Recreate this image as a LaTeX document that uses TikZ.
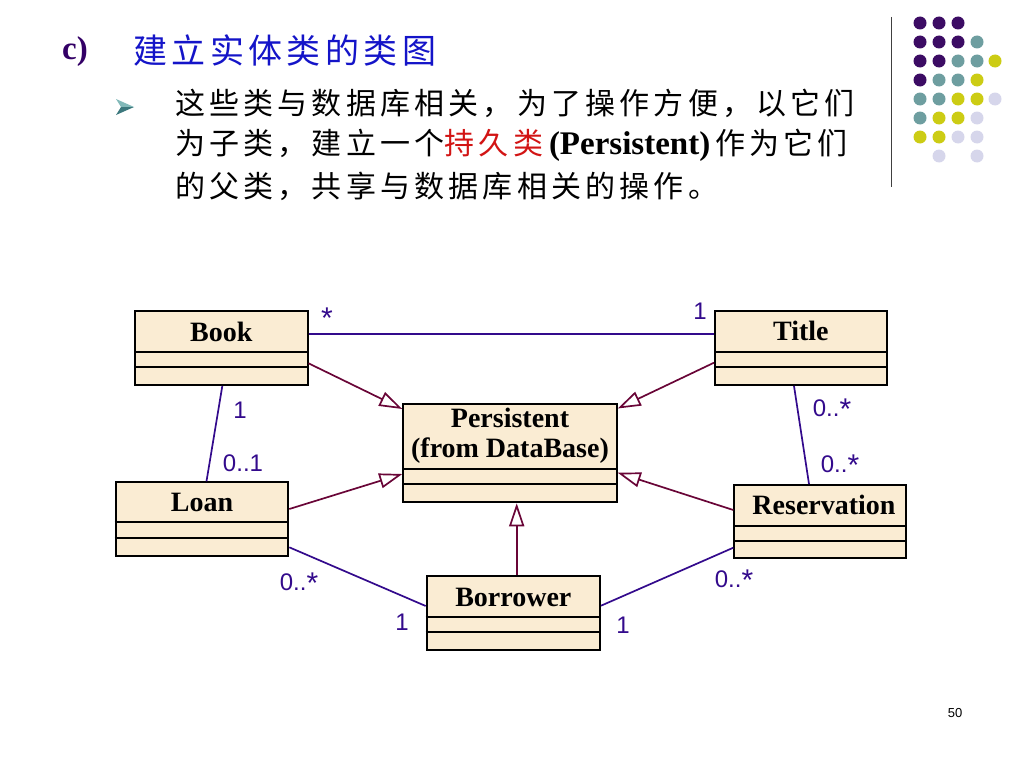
\documentclass[tikz,border=0pt]{standalone}
\usepackage{fontspec}
\setmainfont{Liberation Serif}
\setsansfont{Liberation Sans}
\newfontfamily\cjk[LetterSpace=14]{Noto Sans CJK SC}
\newfontfamily\cjkt[LetterSpace=13]{Noto Sans CJK SC}
\usetikzlibrary{arrows.meta}
\definecolor{boxfill}{RGB}{250,236,211}
\definecolor{assoc}{RGB}{51,10,140}
\definecolor{gen}{RGB}{105,5,55}
\definecolor{titleblue}{RGB}{20,20,200}
\definecolor{cpurple}{RGB}{51,0,102}
\definecolor{bulletlight}{RGB}{130,185,185}
\definecolor{bulletdark}{RGB}{60,120,125}
\definecolor{dP}{RGB}{60,12,100}
\definecolor{dT}{RGB}{110,158,160}
\definecolor{dY}{RGB}{204,204,20}
\definecolor{dL}{RGB}{214,214,235}
\definecolor{pred}{RGB}{210,20,20}
\newcommand\mstar{\raisebox{-3pt}{\fontsize{30}{30}\selectfont *}}
\begin{document}
\begin{tikzpicture}[x=1pt,y=-1pt,
  classbox/.style={draw=black, line width=2pt, fill=boxfill, inner sep=0pt},
  compline/.style={draw=black, line width=2pt},
  cname/.style={font=\bfseries\fontsize{28}{30}\selectfont, inner sep=0pt, align=center},
  assocline/.style={draw=assoc, line width=1.7pt},
  genline/.style={draw=gen, line width=1.7pt, -{Triangle[open, length=23pt, width=15pt, line width=1.7pt]}},
  mult/.style={font=\sffamily\fontsize{24}{24}\selectfont, text=assoc, inner sep=0pt},
  dot/.style={circle, inner sep=0pt, minimum size=13pt}
]
\useasboundingbox (0,0) rectangle (1024,768);
% header
\node[anchor=west, inner sep=0pt, text=cpurple, font=\bfseries\fontsize{33}{34}\selectfont] (c) at (62,52) {c)};
\node[anchor=west, inner sep=0pt, text=titleblue, font=\cjkt\fontsize{34}{36}\selectfont] (title) at (133,50) {建立实体类的类图};
\coordinate (btip) at (134,107);
\coordinate (btop) at (116,99);
\coordinate (bnotch) at (121,107);
\coordinate (bbot) at (116,115);
\fill[bulletlight] (btop) -- (btip) -- (bnotch) -- cycle;
\fill[bulletdark] (bbot) -- (btip) -- (bnotch) -- cycle;
\node[anchor=west, inner sep=0pt, font=\cjk\fontsize{30}{32}\selectfont] (l1) at (175,103) {这些类与数据库相关，为了操作方便，以它们};
\node[anchor=west, inner sep=0pt, font=\fontsize{30}{32}\selectfont] (l2) at (175,145) {{\cjk 为子类，建立一个\textcolor{pred}{持久类}}\hspace{6pt}{\bfseries\fontsize{33}{34}\selectfont (Persistent)}\hspace{5pt}{\cjk 作为它们}};
\node[anchor=west, inner sep=0pt, font=\cjk\fontsize{30}{32}\selectfont] (l3) at (175,186) {的父类，共享与数据库相关的操作。};
% decoration
\coordinate (vt) at (891.5,17);
\coordinate (vb) at (891.5,187);
\draw[line width=1.3pt, draw=black!75] (vt) -- (vb);
\foreach \c/\r/\col in {
 920/23/dP, 939/23/dP, 958/23/dP,
 920/42/dP, 939/42/dP, 958/42/dP, 977/42/dT,
 920/61/dP, 939/61/dP, 958/61/dT, 977/61/dT, 995/61/dY,
 920/80/dP, 939/80/dT, 958/80/dT, 977/80/dY,
 920/99/dT, 939/99/dT, 958/99/dY, 977/99/dY, 995/99/dL,
 920/118/dT, 939/118/dY, 958/118/dY, 977/118/dL,
 920/137/dY, 939/137/dY, 958/137/dL, 977/137/dL,
 939/156/dL, 977/156/dL}
 \node[dot, fill=\col] (d\c-\r) at (\c,\r) {};
\node[inner sep=0pt, font=\sffamily\fontsize{13}{13}\selectfont] (pg) at (955,713) {50};
% classes
\node[classbox, minimum width=172.5pt, minimum height=74pt] (book) at (221.25,348) {};
\draw[compline] (book.west |- 0,351.7) -- (book.east |- 0,351.7);
\draw[compline] (book.west |- 0,367.3) -- (book.east |- 0,367.3);
\node[cname] (bookn) at (221.25,332) {Book};

\node[classbox, minimum width=171.7pt, minimum height=74pt] (titlec) at (800.85,348) {};
\draw[compline] (titlec.west |- 0,351.7) -- (titlec.east |- 0,351.7);
\draw[compline] (titlec.west |- 0,367.3) -- (titlec.east |- 0,367.3);
\node[cname] (titlen) at (800.85,331) {Title};

\node[classbox, minimum width=213.4pt, minimum height=98.3pt] (pers) at (510,453.15) {};
\draw[compline] (pers.west |- 0,469) -- (pers.east |- 0,469);
\draw[compline] (pers.west |- 0,484.3) -- (pers.east |- 0,484.3);
\node[cname] (persn) at (510,435.5) {Persistent\\(from DataBase)};

\node[classbox, minimum width=172.6pt, minimum height=73.7pt] (loan) at (202,519.15) {};
\draw[compline] (loan.west |- 0,522.3) -- (loan.east |- 0,522.3);
\draw[compline] (loan.west |- 0,537.7) -- (loan.east |- 0,537.7);
\node[cname] (loann) at (202,502) {Loan};

\node[classbox, minimum width=173.3pt, minimum height=74pt] (borr) at (513.35,613) {};
\draw[compline] (borr.west |- 0,616.7) -- (borr.east |- 0,616.7);
\draw[compline] (borr.west |- 0,632.3) -- (borr.east |- 0,632.3);
\node[cname] (borrn) at (513.35,597) {Borrower};

\node[classbox, minimum width=171.7pt, minimum height=73.3pt] (res) at (820.15,521.65) {};
\draw[compline] (res.west |- 0,525.7) -- (res.east |- 0,525.7);
\draw[compline] (res.west |- 0,541) -- (res.east |- 0,541);
\node[cname] (resn) at (824,505) {Reservation};
% associations
\draw[assocline] (book.east |- 0,334) -- (titlec.west |- 0,334);
\draw[assocline] (222.3,0 |- book.south) -- (206.5,0 |- loan.north);
\draw[assocline] (794,0 |- titlec.south) -- (809,0 |- res.north);
\draw[assocline] (loan.east |- 0,547.3) -- (borr.west |- 0,606);
\draw[assocline] (res.west |- 0,547.7) -- (borr.east |- 0,605.7);
% generalizations
\draw[genline] (book.east |- 0,363.3) -- (pers.west |- 0,409);
\draw[genline] (loan.east |- 0,509) -- (pers.west |- 0,474);
\draw[genline] (titlec.west |- 0,362.7) -- (pers.east |- 0,408.5);
\draw[genline] (res.west |- 0,510) -- (pers.east |- 0,472.7);
\draw[genline] (516.7,0 |- borr.north) -- (516.7,0 |- pers.south);
% multiplicities
\node[mult] (m1) at (327,318) {\mstar};
\node[mult] (m2) at (700,311) {1};
\node[mult] (m3) at (240,410) {1};
\node[mult] (m4) at (243,463) {0..1};
\node[mult] (m5) at (832,409) {0..\mstar};
\node[mult] (m6) at (840,465) {0..\mstar};
\node[mult] (m7) at (299,583) {0..\mstar};
\node[mult] (m8) at (402,622) {1};
\node[mult] (m9) at (734,580) {0..\mstar};
\node[mult] (m10) at (623,625) {1};
\end{tikzpicture}
\end{document}
